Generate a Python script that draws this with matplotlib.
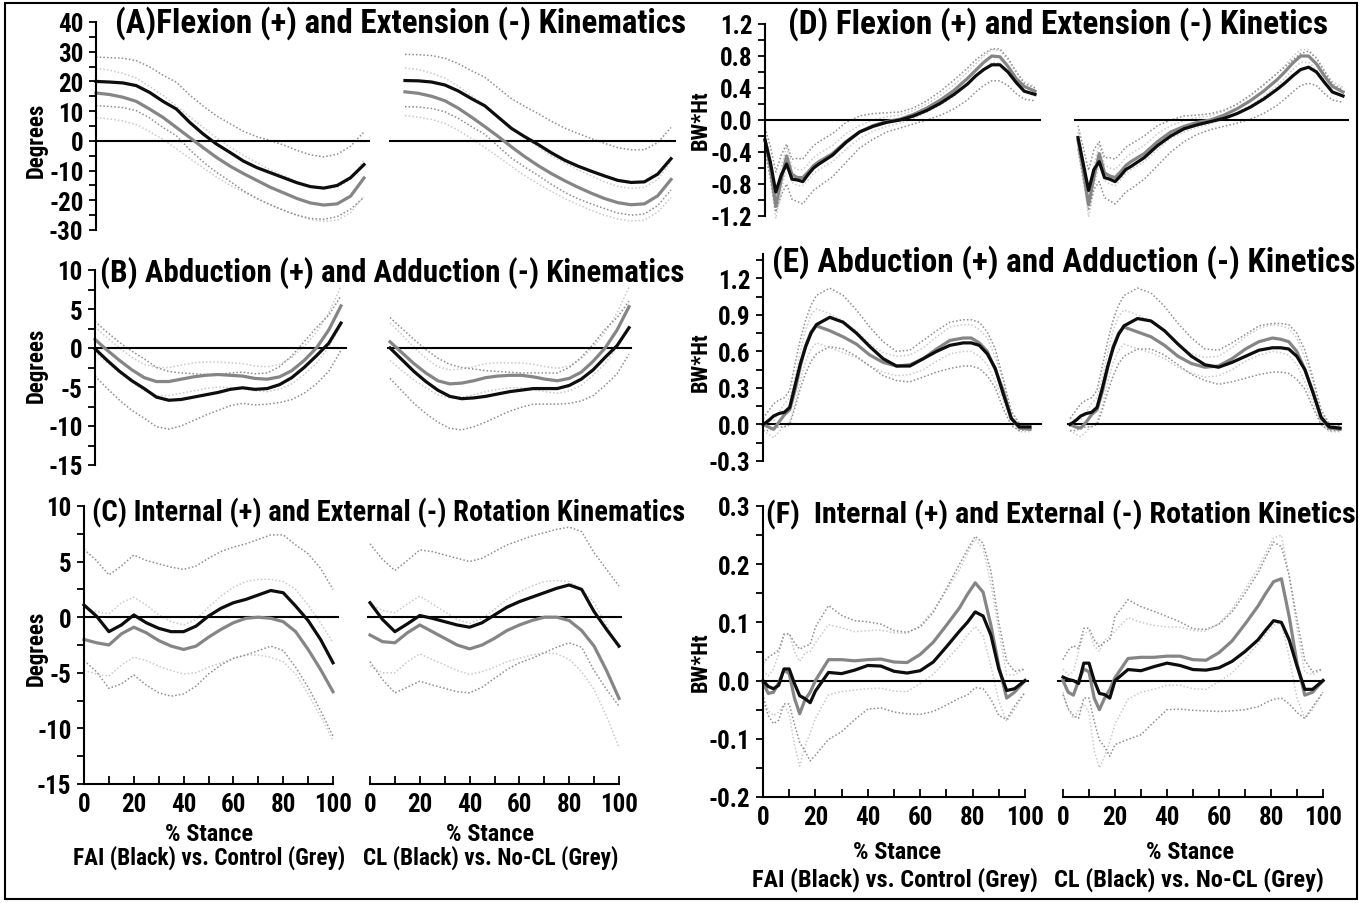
import numpy as np
import matplotlib
matplotlib.use("Agg")
import matplotlib.pyplot as plt
from matplotlib.patches import Rectangle
from matplotlib.ticker import MultipleLocator, FormatStrFormatter

plt.rcParams['font.family'] = ['Liberation Sans Narrow', 'Roboto Condensed', 'Arial Narrow',
                               'Liberation Sans', 'DejaVu Sans']
plt.rcParams['font.weight'] = 'bold'
plt.rcParams['axes.unicode_minus'] = False

W, H = 1363, 904

# % stance sampling (kinematics every 5 %, kinetics finer near heel strike / toe off)
stance = [0, 5, 10, 15, 20, 25, 30, 35, 40, 45, 50, 55, 60, 65, 70, 75, 80, 85, 90, 95, 100]
stance_k = [0, 2, 4, 6, 8, 10, 12, 14, 16, 18, 20, 25, 30, 35, 40, 45, 50, 55, 60, 65,
            70, 75, 78, 81, 84, 87, 90, 93, 96, 100]

# ---- (A) flexion / extension kinematics (deg) ----
a_fai_black = [20.0, 19.8, 19.5, 18.6, 16.3, 13.3, 10.7, 6.2, 2.3, -1.1, -3.9, -6.8, -9.0, -10.7, -12.4, -14.1, -15.4, -15.9, -15.0, -12.4, -8.0]
a_fai_black_sd = [8.2, 8.2, 8.3, 8.4, 8.6, 8.8, 9.0, 9.2, 9.4, 9.5, 9.7, 10.0, 10.4, 10.8, 11.0, 10.9, 10.7, 10.5, 10.5, 10.6, 11.0]
a_fai_grey = [16.1, 15.6, 14.7, 13.3, 10.7, 7.9, 4.5, 1.1, -2.3, -5.6, -8.5, -11.0, -13.3, -15.6, -17.5, -19.4, -20.9, -21.6, -21.2, -18.6, -12.5]
a_fai_grey_sd = [8.3, 8.2, 8.0, 7.8, 7.6, 7.4, 7.2, 7.0, 6.8, 6.6, 6.4, 6.2, 6.0, 5.9, 5.8, 5.7, 5.6, 5.5, 5.5, 5.6, 6.0]
a_cl_black = [20.3, 20.2, 19.8, 18.8, 16.8, 14.2, 11.8, 8.0, 4.2, 1.4, -1.2, -4.0, -6.5, -8.5, -10.2, -11.8, -13.3, -14.0, -13.8, -11.2, -6.0]
a_cl_black_sd = [8.8, 8.8, 8.9, 9.0, 9.2, 9.4, 9.6, 9.8, 10.0, 10.2, 10.4, 10.6, 10.8, 11.0, 11.0, 11.0, 11.0, 11.0, 10.8, 10.6, 10.5]
a_cl_grey = [16.5, 16.0, 15.0, 13.5, 11.0, 8.0, 4.8, 1.5, -2.0, -5.3, -8.3, -11.0, -13.4, -15.6, -17.6, -19.4, -20.8, -21.5, -21.2, -18.5, -13.0]
a_cl_grey_sd = [8.0, 8.0, 7.8, 7.6, 7.4, 7.2, 7.0, 6.8, 6.6, 6.4, 6.2, 6.0, 6.0, 5.8, 5.8, 5.6, 5.5, 5.5, 5.5, 5.5, 6.0]

# ---- (B) abduction / adduction kinematics (deg) ----
b_fai_black = [-0.1, -1.6, -3.0, -4.2, -5.2, -6.3, -6.7, -6.6, -6.3, -6.0, -5.7, -5.3, -5.1, -5.3, -5.2, -4.7, -3.8, -2.5, -1.0, 0.6, 3.2]
b_fai_black_sd = [3.5, 3.6, 3.7, 3.8, 3.8, 3.8, 3.7, 3.4, 3.0, 2.6, 2.3, 2.1, 2.0, 2.0, 2.0, 2.3, 2.8, 3.3, 3.6, 3.6, 3.5]
b_fai_grey = [1.1, -0.3, -1.6, -2.8, -3.8, -4.3, -4.3, -4.0, -3.7, -3.5, -3.4, -3.5, -3.6, -3.9, -4.0, -3.7, -2.9, -1.6, 0.0, 2.3, 5.4]
b_fai_grey_sd = [1.6, 1.6, 1.6, 1.6, 1.7, 1.8, 1.8, 1.8, 1.8, 1.7, 1.6, 1.6, 1.6, 1.6, 1.6, 1.6, 1.7, 1.8, 2.0, 2.2, 2.5]
b_cl_black = [0.0, -1.5, -3.0, -4.3, -5.4, -6.2, -6.5, -6.4, -6.2, -5.9, -5.6, -5.4, -5.2, -5.2, -5.2, -4.8, -4.0, -2.8, -1.2, 0.3, 2.6]
b_cl_black_sd = [3.9, 4.0, 4.1, 4.1, 4.1, 4.1, 4.0, 3.7, 3.3, 2.9, 2.5, 2.2, 2.0, 2.0, 2.0, 2.3, 2.8, 3.3, 3.6, 3.6, 3.4]
b_cl_grey = [0.8, -0.6, -2.0, -3.2, -4.2, -4.6, -4.5, -4.2, -3.8, -3.6, -3.5, -3.5, -3.7, -4.0, -4.2, -3.9, -3.1, -1.7, 0.0, 2.3, 5.3]
b_cl_grey_sd = [2.4, 2.3, 2.1, 1.9, 1.8, 1.8, 1.8, 1.8, 1.8, 1.7, 1.6, 1.6, 1.6, 1.6, 1.6, 1.6, 1.7, 1.8, 2.0, 2.2, 2.5]

# ---- (C) internal / external rotation kinematics (deg) ----
c_fai_black = [1.1, 0.1, -1.3, -0.7, 0.2, -0.5, -1.0, -1.3, -1.3, -0.8, 0.1, 0.8, 1.3, 1.6, 2.0, 2.4, 2.2, 1.0, -0.3, -2.0, -4.1]
c_fai_black_sd = [5.0, 5.0, 5.1, 5.3, 5.4, 5.6, 5.8, 5.8, 5.6, 5.4, 5.2, 5.1, 5.0, 5.0, 5.0, 5.0, 5.2, 5.5, 6.0, 6.4, 6.6]
c_fai_grey = [-2.0, -2.3, -2.5, -1.5, -0.9, -1.4, -2.1, -2.6, -2.9, -2.6, -1.8, -1.1, -0.5, -0.1, 0.0, -0.1, -0.4, -1.3, -2.9, -4.7, -6.7]
c_fai_grey_sd = [2.8, 2.8, 2.8, 2.8, 2.7, 2.5, 2.3, 2.2, 2.2, 2.4, 2.7, 3.0, 3.2, 3.3, 3.4, 3.5, 3.6, 3.8, 4.0, 4.2, 4.4]
c_cl_black = [1.3, -0.2, -1.3, -0.6, 0.15, -0.1, -0.4, -0.7, -0.9, -0.5, 0.2, 0.9, 1.4, 1.8, 2.2, 2.6, 2.9, 2.5, 0.5, -1.1, -2.6]
c_cl_black_sd = [5.3, 5.4, 5.5, 5.7, 5.9, 6.0, 6.0, 6.0, 5.9, 5.8, 5.7, 5.6, 5.5, 5.5, 5.4, 5.3, 5.2, 5.2, 5.3, 5.4, 5.4]
c_cl_grey = [-1.6, -2.2, -2.3, -1.4, -0.7, -1.3, -1.9, -2.5, -2.85, -2.5, -1.9, -1.2, -0.7, -0.3, 0.0, 0.0, -0.3, -1.2, -2.6, -4.8, -7.3]
c_cl_grey_sd = [2.8, 2.8, 2.7, 2.6, 2.6, 2.5, 2.4, 2.3, 2.3, 2.4, 2.6, 2.8, 3.0, 3.1, 3.2, 3.3, 3.5, 3.7, 3.9, 4.1, 4.4]

# ---- (D) flexion / extension kinetics (BW*Ht) ----
d_fai_black = [-0.25, -0.53, -0.9, -0.69, -0.55, -0.74, -0.75, -0.77, -0.68, -0.6, -0.55, -0.44, -0.28, -0.15, -0.08, -0.03, 0.0, 0.05, 0.12, 0.21, 0.32, 0.45, 0.55, 0.63, 0.69, 0.69, 0.6, 0.47, 0.36, 0.32]
d_fai_black_sd = [0.15, 0.2, 0.25, 0.25, 0.25, 0.25, 0.27, 0.28, 0.28, 0.28, 0.28, 0.27, 0.25, 0.2, 0.16, 0.12, 0.1, 0.1, 0.12, 0.15, 0.18, 0.2, 0.2, 0.2, 0.2, 0.2, 0.17, 0.14, 0.1, 0.08]
d_fai_grey = [-0.25, -0.6, -1.08, -0.75, -0.45, -0.68, -0.72, -0.72, -0.65, -0.57, -0.52, -0.42, -0.27, -0.15, -0.07, -0.02, 0.01, 0.07, 0.15, 0.25, 0.37, 0.52, 0.62, 0.72, 0.8, 0.79, 0.67, 0.52, 0.42, 0.36]
d_fai_grey_sd = [0.1, 0.12, 0.15, 0.15, 0.12, 0.1, 0.1, 0.1, 0.1, 0.1, 0.1, 0.1, 0.1, 0.08, 0.07, 0.06, 0.05, 0.05, 0.05, 0.06, 0.07, 0.08, 0.08, 0.08, 0.08, 0.08, 0.08, 0.07, 0.06, 0.06]
d_cl_black = [-0.22, -0.55, -0.88, -0.62, -0.52, -0.72, -0.74, -0.77, -0.7, -0.62, -0.58, -0.47, -0.32, -0.2, -0.11, -0.06, -0.02, 0.02, 0.08, 0.16, 0.26, 0.38, 0.46, 0.55, 0.63, 0.66, 0.6, 0.47, 0.35, 0.3]
d_cl_black_sd = [0.15, 0.2, 0.25, 0.25, 0.25, 0.25, 0.27, 0.28, 0.28, 0.28, 0.28, 0.27, 0.25, 0.2, 0.16, 0.12, 0.1, 0.1, 0.12, 0.15, 0.18, 0.2, 0.2, 0.2, 0.2, 0.2, 0.17, 0.14, 0.1, 0.08]
d_cl_grey = [-0.25, -0.62, -1.06, -0.72, -0.42, -0.66, -0.7, -0.72, -0.65, -0.57, -0.52, -0.42, -0.27, -0.15, -0.08, -0.03, 0.0, 0.06, 0.14, 0.24, 0.36, 0.5, 0.6, 0.71, 0.8, 0.8, 0.7, 0.55, 0.42, 0.35]
d_cl_grey_sd = [0.1, 0.12, 0.15, 0.15, 0.12, 0.1, 0.1, 0.1, 0.1, 0.1, 0.1, 0.1, 0.1, 0.08, 0.07, 0.06, 0.05, 0.05, 0.05, 0.06, 0.07, 0.08, 0.08, 0.08, 0.08, 0.08, 0.08, 0.07, 0.06, 0.06]

# ---- (E) abduction / adduction kinetics (BW*Ht) ----
e_fai_black = [0.0, 0.03, 0.07, 0.09, 0.1, 0.14, 0.32, 0.5, 0.64, 0.75, 0.82, 0.88, 0.84, 0.75, 0.64, 0.54, 0.48, 0.48, 0.54, 0.6, 0.65, 0.67, 0.67, 0.65, 0.58, 0.46, 0.25, 0.05, -0.02, -0.02]
e_fai_black_sd = [0.05, 0.08, 0.1, 0.11, 0.12, 0.14, 0.18, 0.2, 0.22, 0.23, 0.24, 0.24, 0.22, 0.19, 0.16, 0.14, 0.12, 0.13, 0.15, 0.17, 0.19, 0.19, 0.19, 0.19, 0.18, 0.16, 0.12, 0.06, 0.03, 0.02]
e_fai_grey = [0.0, -0.02, -0.04, 0.02, 0.08, 0.12, 0.28, 0.48, 0.65, 0.76, 0.81, 0.77, 0.72, 0.66, 0.57, 0.51, 0.48, 0.49, 0.54, 0.62, 0.69, 0.71, 0.71, 0.67, 0.6, 0.45, 0.28, 0.05, -0.03, -0.04]
e_fai_grey_sd = [0.05, 0.06, 0.07, 0.08, 0.09, 0.1, 0.11, 0.12, 0.13, 0.14, 0.14, 0.14, 0.13, 0.11, 0.09, 0.08, 0.08, 0.08, 0.09, 0.1, 0.11, 0.11, 0.11, 0.11, 0.11, 0.1, 0.08, 0.05, 0.03, 0.02]
e_cl_black = [0.0, 0.03, 0.07, 0.09, 0.1, 0.14, 0.3, 0.48, 0.63, 0.74, 0.81, 0.87, 0.85, 0.77, 0.66, 0.56, 0.49, 0.47, 0.51, 0.56, 0.61, 0.63, 0.63, 0.62, 0.56, 0.45, 0.26, 0.06, -0.02, -0.03]
e_cl_black_sd = [0.05, 0.08, 0.1, 0.11, 0.12, 0.14, 0.18, 0.21, 0.23, 0.24, 0.25, 0.25, 0.23, 0.2, 0.17, 0.15, 0.13, 0.14, 0.16, 0.18, 0.2, 0.2, 0.2, 0.2, 0.19, 0.16, 0.12, 0.06, 0.03, 0.02]
e_cl_grey = [0.0, -0.02, -0.03, 0.02, 0.08, 0.12, 0.27, 0.47, 0.64, 0.75, 0.8, 0.76, 0.72, 0.65, 0.56, 0.5, 0.47, 0.48, 0.54, 0.62, 0.68, 0.71, 0.7, 0.68, 0.6, 0.45, 0.27, 0.05, -0.03, -0.04]
e_cl_grey_sd = [0.05, 0.06, 0.07, 0.08, 0.09, 0.1, 0.11, 0.12, 0.13, 0.14, 0.14, 0.14, 0.13, 0.11, 0.09, 0.08, 0.08, 0.08, 0.09, 0.1, 0.11, 0.11, 0.11, 0.11, 0.11, 0.1, 0.08, 0.05, 0.03, 0.02]

# ---- (F) internal / external rotation kinetics (BW*Ht) ----
f_fai_black = [0.0, -0.01, -0.014, -0.008, 0.02, 0.02, -0.005, -0.026, -0.031, -0.038, -0.018, 0.014, 0.012, 0.018, 0.026, 0.025, 0.016, 0.013, 0.017, 0.032, 0.058, 0.085, 0.1, 0.118, 0.111, 0.078, 0.02, -0.017, -0.014, 0.0]
f_fai_black_sd = [0.03, 0.05, 0.06, 0.06, 0.06, 0.06, 0.07, 0.08, 0.09, 0.1, 0.11, 0.115, 0.1, 0.085, 0.075, 0.072, 0.07, 0.07, 0.075, 0.085, 0.1, 0.115, 0.125, 0.13, 0.125, 0.11, 0.08, 0.05, 0.03, 0.02]
f_fai_grey = [-0.003, -0.022, -0.02, -0.004, 0.018, 0.012, -0.03, -0.057, -0.033, -0.02, 0.0, 0.036, 0.036, 0.034, 0.036, 0.037, 0.032, 0.031, 0.045, 0.066, 0.095, 0.125, 0.148, 0.168, 0.152, 0.095, 0.025, -0.03, -0.02, 0.0]
f_fai_grey_sd = [0.02, 0.03, 0.04, 0.05, 0.06, 0.07, 0.08, 0.09, 0.08, 0.07, 0.065, 0.06, 0.055, 0.05, 0.05, 0.05, 0.05, 0.05, 0.05, 0.055, 0.06, 0.065, 0.07, 0.075, 0.075, 0.07, 0.06, 0.04, 0.03, 0.02]
f_cl_black = [0.006, 0.002, 0.0, -0.005, 0.03, 0.03, 0.0, -0.022, -0.024, -0.03, 0.0, 0.019, 0.017, 0.024, 0.03, 0.026, 0.019, 0.018, 0.022, 0.033, 0.05, 0.07, 0.087, 0.103, 0.1, 0.07, 0.025, -0.015, -0.015, 0.0]
f_cl_black_sd = [0.03, 0.05, 0.06, 0.06, 0.06, 0.06, 0.07, 0.08, 0.09, 0.1, 0.11, 0.12, 0.11, 0.095, 0.08, 0.075, 0.07, 0.07, 0.075, 0.085, 0.1, 0.115, 0.125, 0.135, 0.13, 0.11, 0.08, 0.05, 0.03, 0.02]
f_cl_grey = [0.0, -0.02, -0.025, 0.0, 0.02, 0.015, -0.03, -0.05, -0.03, -0.015, 0.005, 0.038, 0.04, 0.04, 0.042, 0.042, 0.036, 0.035, 0.048, 0.068, 0.097, 0.128, 0.15, 0.17, 0.175, 0.11, 0.03, -0.025, -0.02, 0.0]
f_cl_grey_sd = [0.02, 0.03, 0.04, 0.05, 0.06, 0.07, 0.09, 0.1, 0.1, 0.09, 0.08, 0.07, 0.06, 0.055, 0.05, 0.05, 0.05, 0.05, 0.05, 0.055, 0.06, 0.065, 0.07, 0.075, 0.075, 0.07, 0.06, 0.04, 0.03, 0.02]

titles = ["(A)Flexion (+) and Extension (-) Kinematics",
          "(B) Abduction (+) and Adduction (-) Kinematics",
          "(C) Internal (+) and External (-) Rotation Kinematics",
          "(D) Flexion (+) and Extension (-) Kinetics",
          "(E) Abduction (+) and Adduction (-) Kinetics",
          "(F)  Internal (+) and External (-) Rotation Kinetics"]
stance_label = "% Stance"
group_labels = ["FAI (Black) vs. Control (Grey)", "CL (Black) vs. No-CL (Grey)"]

BLACK = "#0d0d0d"
GREY = "#858585"
BLACK_SD = "#8e8e8e"
GREY_SD = "#cacaca"
DOT = (0, (1, 1.4))

fig = plt.figure(figsize=(W / 100, H / 100), dpi=100)
renderer = fig.canvas.get_renderer()


def fit_text(t, target, vertical=False):
    # scale the font so the text covers the measured span of the original
    bb = t.get_window_extent(renderer)
    span = bb.height if vertical else bb.width
    t.set_fontsize(t.get_fontsize() * target / span)
    return t


def label(px, py, s, target, ha="center", vertical=False):
    t = fig.text(px / W, 1 - py / H, s, fontsize=16, ha=ha, va="center",
                 rotation=90 if vertical else 0)
    return fit_text(t, target, vertical)


# tick label size so that "100" is about as wide as in the original
probe = fig.text(0, 0, "100", fontsize=16)
TICK_SIZE = 16 * 38 / probe.get_window_extent(renderer).width
probe.remove()


def px_axes(x0, x100, y_top, y_bot):
    return fig.add_axes([x0 / W, 1 - y_bot / H, (x100 - x0) / W, (y_bot - y_top) / H])


def draw(ax, x, black, black_sd, grey, grey_sd, ylim, major, minor, fmt,
         zero_span, show_y, show_x):
    x = np.asarray(x, float)
    b, bs = np.asarray(black), np.asarray(black_sd)
    g, gs = np.asarray(grey), np.asarray(grey_sd)
    ax.set_xlim(0, 100)
    ax.set_ylim(*ylim)
    ax.patch.set_alpha(0)
    for y in (g + gs, g - gs):
        ax.plot(x, y, color=GREY_SD, lw=1.1, ls=DOT, clip_on=False)
    for y in (b + bs, b - bs):
        ax.plot(x, y, color=BLACK_SD, lw=1.1, ls=DOT, clip_on=False)
    ax.plot(zero_span, [0, 0], color="black", lw=1.5, clip_on=False)
    ax.plot(x, g, color=GREY, lw=2.3, clip_on=False)
    ax.plot(x, b, color=BLACK, lw=2.3, clip_on=False)

    for s in ("top", "right"):
        ax.spines[s].set_visible(False)
    ax.spines["left"].set_visible(show_y)
    ax.spines["bottom"].set_visible(show_x)
    for s in ("left", "bottom"):
        ax.spines[s].set_linewidth(1.5)
    if show_y:
        ax.yaxis.set_major_locator(MultipleLocator(major))
        ax.yaxis.set_minor_locator(MultipleLocator(minor))
        ax.yaxis.set_major_formatter(FormatStrFormatter(fmt))
        ax.tick_params(axis="y", which="both", direction="out", length=5, width=1.3,
                       labelsize=TICK_SIZE, pad=4)
    else:
        ax.set_yticks([])
    if show_x:
        ax.xaxis.set_major_locator(MultipleLocator(20))
        ax.xaxis.set_minor_locator(MultipleLocator(10))
        ax.tick_params(axis="x", which="both", direction="in", length=6, width=1.3,
                       labelsize=TICK_SIZE, pad=6)
    else:
        ax.set_xticks([])


# (A)
ax = px_axes(96, 364, 23, 231)
draw(ax, stance, a_fai_black, a_fai_black_sd, a_fai_grey, a_fai_grey_sd,
     (-30, 40), 10, 5, "%d", [0, 102], True, False)
ax = px_axes(405, 671, 23, 231)
draw(ax, stance, a_cl_black, a_cl_black_sd, a_cl_grey, a_cl_grey_sd,
     (-30, 40), 10, 5, "%d", [-5.5, 101.5], False, False)
# (B)
ax = px_axes(95, 341, 271, 466)
draw(ax, stance, b_fai_black, b_fai_black_sd, b_fai_grey, b_fai_grey_sd,
     (-15, 10), 5, 2.5, "%d", [0, 102], True, False)
ax = px_axes(390, 629, 271, 466)
draw(ax, stance, b_cl_black, b_cl_black_sd, b_cl_grey, b_cl_grey_sd,
     (-15, 10), 5, 2.5, "%d", [-1, 101], False, False)
# (C)
ax = px_axes(84, 333, 507, 785)
draw(ax, stance, c_fai_black, c_fai_black_sd, c_fai_grey, c_fai_grey_sd,
     (-15, 10), 5, 2.5, "%d", [0, 102], True, True)
ax = px_axes(370, 619, 507, 785)
draw(ax, stance, c_cl_black, c_cl_black_sd, c_cl_grey, c_cl_grey_sd,
     (-15, 10), 5, 2.5, "%d", [-1, 101], False, True)
# (D)
ax = px_axes(765, 1035, 25, 217)
draw(ax, stance_k, d_fai_black, d_fai_black_sd, d_fai_grey, d_fai_grey_sd,
     (-1.2, 1.2), 0.4, 0.2, "%.1f", [0, 102], True, False)
ax = px_axes(1078, 1343, 25, 217)
draw(ax, stance_k, d_cl_black, d_cl_black_sd, d_cl_grey, d_cl_grey_sd,
     (-1.2, 1.2), 0.4, 0.2, "%.1f", [-1, 102], False, False)
# (E)
ax = px_axes(763, 1030, 255, 462)
draw(ax, stance_k, e_fai_black, e_fai_black_sd, e_fai_grey, e_fai_grey_sd,
     (-0.3, 1.4), 0.3, 0.15, "%.1f", [0, 104], True, False)
ax = px_axes(1070, 1340, 255, 462)
draw(ax, stance_k, e_cl_black, e_cl_black_sd, e_cl_grey, e_cl_grey_sd,
     (-0.3, 1.4), 0.3, 0.15, "%.1f", [-0.7, 100.5], False, False)
# (F)
ax = px_axes(763, 1025, 507, 798)
draw(ax, stance_k, f_fai_black, f_fai_black_sd, f_fai_grey, f_fai_grey_sd,
     (-0.2, 0.3), 0.1, 0.05, "%.1f", [0, 101], True, True)
ax = px_axes(1063, 1323, 507, 798)
draw(ax, stance_k, f_cl_black, f_cl_black_sd, f_cl_grey, f_cl_grey_sd,
     (-0.2, 0.3), 0.1, 0.05, "%.1f", [-2, 100], False, True)

# panel titles: (left x, centre y, width in px)
title_pos = [(115, 23, 570), (100, 273, 583), (92, 513, 591),
             (788, 24, 540), (772, 262, 583), (766, 515, 590)]
for t, (px, py, w) in zip(titles, title_pos):
    label(px, py, t, w, ha="left")

# y labels
for py in (140, 365, 648):
    label(36, py, "Degrees", 75, vertical=True)
for py in (120, 362, 662):
    label(701, py, "BW*Ht", 60, vertical=True)

# x labels
for px, py in [(209, 835), (490, 835), (897, 853), (1190, 853)]:
    label(px, py, stance_label, 88)
label(209, 858, group_labels[0], 272)
label(491, 858, group_labels[1], 256)
label(895, 880, group_labels[0], 285)
label(1189, 880, group_labels[1], 270)

fig.add_artist(Rectangle((5 / W, 1 - 900 / H), (1357 - 5) / W, (900 - 4) / H,
                         transform=fig.transFigure, fill=False, lw=1.5, ec="black"))

fig.savefig("out.png", dpi=100)
plt.close(fig)
